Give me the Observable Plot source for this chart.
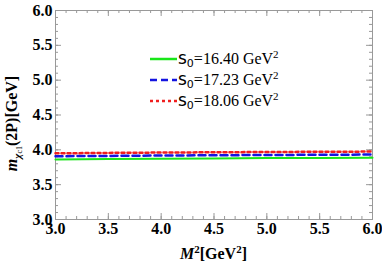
<!DOCTYPE html>
<html><head><meta charset="utf-8">
<script src="https://cdn.jsdelivr.net/npm/d3@7"></script>
<script src="https://cdn.jsdelivr.net/npm/@observablehq/plot@0.6"></script>
<style>body{margin:0;background:#fff;} svg{display:block;}</style>
</head><body><div id="chart"></div>
<script>
// Data
const m2 = [3.0, 3.5, 4.0, 4.5, 5.0, 5.5, 6.0];
const massS1640 = [3.862, 3.868, 3.873, 3.877, 3.881, 3.884, 3.887];
const massS1723 = [3.908, 3.913, 3.918, 3.922, 3.926, 3.929, 3.932];
const massS1806 = [3.950, 3.956, 3.961, 3.965, 3.969, 3.972, 3.975];
const s0Labels = ["16.40", "17.23", "18.06"];
const seriesColors = ["#19e619", "#1414e0", "#f01e1e"];
const seriesDash = [null, "7,4", "3,3"];
const xTicks = [3.0, 3.5, 4.0, 4.5, 5.0, 5.5, 6.0];
const yTicks = [3.0, 3.5, 4.0, 4.5, 5.0, 5.5, 6.0];

const W = 382, H = 273, mt = 10, mb = 54, ml = 55, mr = 10;
const fh = H - mt - mb, fw = W - ml - mr;
const xMinor = d3.range(30, 61).map(d => d / 10);
const yMinor = d3.range(30, 61).map(d => d / 10);
const serif = "Liberation Serif, Times New Roman, serif";
const grey = "#999";

const series = [massS1640, massS1723, massS1806];
const marks = [
  Plot.tickX(xMinor, {x: d => d, stroke: grey, insetTop: fh - 3}),
  Plot.tickX(xMinor, {x: d => d, stroke: grey, insetBottom: fh - 3}),
  Plot.tickX(xTicks, {x: d => d, stroke: grey, insetTop: fh - 6}),
  Plot.tickX(xTicks, {x: d => d, stroke: grey, insetBottom: fh - 6}),
  Plot.tickY(yMinor, {y: d => d, stroke: grey, insetRight: fw - 3}),
  Plot.tickY(yMinor, {y: d => d, stroke: grey, insetLeft: fw - 3}),
  Plot.tickY(yTicks, {y: d => d, stroke: grey, insetRight: fw - 6}),
  Plot.tickY(yTicks, {y: d => d, stroke: grey, insetLeft: fw - 6}),
  Plot.frame({stroke: grey}),
  Plot.text(xTicks, {x: d => d, frameAnchor: "bottom", dy: 14, text: d => d.toFixed(1),
    fontWeight: "bold", fontSize: 16, fontFamily: serif, fill: "black"}),
  Plot.text(yTicks, {y: d => d, frameAnchor: "left", textAnchor: "end", dx: -3, text: d => d.toFixed(1),
    fontWeight: "bold", fontSize: 16, fontFamily: serif, fill: "black"})
];
series.forEach((vals, i) => {
  marks.push(Plot.line(m2.map((x, j) => ({x, y: vals[j]})), {
    x: "x", y: "y", stroke: seriesColors[i], strokeWidth: i === 0 ? 2 : 2.5,
    strokeDasharray: seriesDash[i] || undefined
  }));
});

const svg = Plot.plot({
  width: W, height: H, marginTop: mt, marginBottom: mb, marginLeft: ml, marginRight: mr,
  x: {domain: [3, 6], axis: null},
  y: {domain: [3, 6], axis: null},
  style: {background: "white", overflow: "visible"},
  marks
});
document.getElementById("chart").append(svg);

const s = d3.select(svg);
// Y axis title
const yt = s.append("text")
  .attr("transform", `translate(17,${mt + fh / 2 + 9}) rotate(-90)`)
  .attr("text-anchor", "middle")
  .attr("font-family", serif).attr("font-weight", "bold").attr("font-size", 16).attr("fill", "black");
yt.append("tspan").attr("font-style", "italic").text("m");
yt.append("tspan").attr("font-size", 11).attr("font-style", "italic").attr("dy", 4).text("χ");
yt.append("tspan").attr("font-size", 8).attr("font-weight", "normal").attr("dy", 1).text("c1");
yt.append("tspan").attr("dy", -5).text("(2P)[GeV]");

// X axis title
const xt = s.append("text")
  .attr("x", ml + fw / 2).attr("y", H - 14)
  .attr("text-anchor", "middle")
  .attr("font-family", serif).attr("font-weight", "bold").attr("font-size", 16).attr("fill", "black");
xt.append("tspan").attr("font-style", "italic").text("M");
xt.append("tspan").attr("font-size", 11).attr("dy", -6).text("2");
xt.append("tspan").attr("dy", 6).text("[GeV");
xt.append("tspan").attr("font-size", 11).attr("dy", -6).text("2");
xt.append("tspan").attr("dy", 6).text("]");

// Legend
const lg = s.append("g").attr("transform", "translate(150,59)");
s0Labels.forEach((lab, i) => {
  const g = lg.append("g").attr("transform", `translate(0,${i * 21})`);
  g.append("line").attr("x1", 0).attr("x2", 27).attr("y1", 0).attr("y2", 0)
    .attr("stroke", seriesColors[i]).attr("stroke-width", 2.5)
    .attr("stroke-dasharray", seriesDash[i]);
  const t = g.append("text").attr("x", 28).attr("y", 5).attr("text-anchor", "start")
    .attr("font-family", serif).attr("font-size", 16).attr("fill", "black");
  t.append("tspan").attr("font-family", "DejaVu Sans").attr("font-size", 17).text("s");
  t.append("tspan").attr("font-family", "DejaVu Sans").attr("font-size", 11).attr("dy", 3).text("0");
  t.append("tspan").attr("dy", -3).text("=" + lab + " GeV");
  t.append("tspan").attr("font-size", 11).attr("dy", -6).text("2");
});
</script>
</body></html>
